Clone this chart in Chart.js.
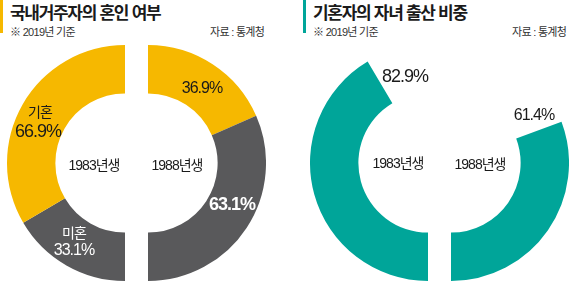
<!DOCTYPE html>
<html lang="ko">
<head>
<meta charset="utf-8">
<script src="https://cdn.jsdelivr.net/npm/chart.js@4"></script>
<style>
  html, body { margin: 0; padding: 0; background: #fff; }
  body { width: 570px; height: 285px; position: relative; overflow: hidden;
         font-family: "Noto Sans CJK KR", "Noto Sans", sans-serif; color: #222; }
  canvas { position: absolute; }
  .bar { position: absolute; top: 0; width: 3px; height: 33px; }
  .title { position: absolute; top: -1px; font-size: 17px; font-weight: 700; letter-spacing: -1.3px; white-space: nowrap; color: #1a1a1a; }
  .sub { position: absolute; top: 23px; font-size: 11px; letter-spacing: -0.7px; white-space: nowrap; color: #333;
         font-family: "Liberation Sans Narrow", "Liberation Sans", "Noto Sans CJK KR", sans-serif; }
  .lbl { position: absolute; transform: translate(-50%, -50%); text-align: center; white-space: nowrap; line-height: 1.15;
         letter-spacing: -1px; font-family: "Liberation Sans Narrow", "Liberation Sans", "Noto Sans CJK KR", sans-serif; color: #1a1a1a; }
</style>
</head>
<body>
<script>
// ---- data ----
const cohorts = ['1983년생', '1988년생'];
const maritalLabels = ['기혼', '미혼'];
const married = [66.9, 36.9];     // 기혼 비율 (%)
const unmarried = [33.1, 63.1];   // 미혼 비율 (%)
const childbirth = [82.9, 61.4];  // 기혼자 중 자녀 출산 비중 (%)
const titles = ['국내거주자의 혼인 여부', '기혼자의 자녀 출산 비중'];
const subtitle = '※ 2019년 기준';
const source = '자료 : 통계청';

// ---- styles ----
const YELLOW = '#F6B800';
const GRAY = '#59595B';
const TEAL = '#00A599';
const NONE = 'rgba(0,0,0,0)';

function el(tag, cls, text, css) {
  const e = document.createElement(tag);
  if (cls) e.className = cls;
  if (text != null) e.textContent = text;
  Object.assign(e.style, css || {});
  document.body.appendChild(e);
  return e;
}

// headers
el('div', 'bar', null, { left: '0px', background: YELLOW });
el('div', 'title', titles[0], { left: '10px' });
el('div', 'sub', subtitle, { left: '10px' });
el('div', 'sub', source, { left: '210px' });
el('div', 'bar', null, { left: '303px', background: TEAL });
el('div', 'title', titles[1], { left: '313px' });
el('div', 'sub', subtitle, { left: '313px' });
el('div', 'sub', source, { left: '512px' });

function halfDonut(left, top, w, h, rotation, values, colors) {
  const c = document.createElement('canvas');
  c.width = w; c.height = h;
  c.style.left = left + 'px'; c.style.top = top + 'px';
  c.style.width = w + 'px'; c.style.height = h + 'px';
  document.body.appendChild(c);
  new Chart(c, {
    type: 'doughnut',
    data: { datasets: [{ data: values, backgroundColor: colors, borderWidth: 0, hoverOffset: 0 }] },
    options: {
      responsive: false, maintainAspectRatio: false, devicePixelRatio: 1,
      animation: false, events: [],
      rotation: rotation, circumference: 180, cutout: '59%',
      layout: { padding: 0 },
      plugins: { legend: { display: false }, tooltip: { enabled: false } }
    }
  });
}

// 국내거주자의 혼인 여부
halfDonut(7, 45, 118, 236, 180, [unmarried[0], married[0]], [GRAY, YELLOW]);
halfDonut(148, 45, 118, 236, 0, [married[1], unmarried[1]], [YELLOW, GRAY]);
// 기혼자의 자녀 출산 비중
halfDonut(310, 45, 118, 236, 180, [childbirth[0], 100 - childbirth[0]], [TEAL, NONE]);
halfDonut(451, 45, 118, 236, 0, [100 - childbirth[1], childbirth[1]], [NONE, TEAL]);

const pct = v => v.toFixed(1) + '%';

// labels
el('div', 'lbl', maritalLabels[0], { left: '40px', top: '112px', fontSize: '14px' });
el('div', 'lbl', pct(married[0]), { left: '38px', top: '131px', fontSize: '18px' });
el('div', 'lbl', maritalLabels[1], { left: '74px', top: '233px', fontSize: '14px', color: '#fff' });
el('div', 'lbl', pct(unmarried[0]), { left: '74px', top: '250px', fontSize: '16px', color: '#fff' });
el('div', 'lbl', pct(married[1]), { left: '202px', top: '88px', fontSize: '16px' });
el('div', 'lbl', pct(unmarried[1]), { left: '232px', top: '204px', fontSize: '18px', color: '#fff', fontWeight: '700' });
el('div', 'lbl', cohorts[0], { left: '94px', top: '165px', fontSize: '14px' });
el('div', 'lbl', cohorts[1], { left: '177px', top: '165px', fontSize: '14px' });

el('div', 'lbl', pct(childbirth[0]), { left: '405px', top: '76px', fontSize: '18px' });
el('div', 'lbl', pct(childbirth[1]), { left: '534px', top: '115px', fontSize: '16px' });
el('div', 'lbl', cohorts[0], { left: '398px', top: '163px', fontSize: '14px' });
el('div', 'lbl', cohorts[1], { left: '480px', top: '164px', fontSize: '14px' });
</script>
</body>
</html>
